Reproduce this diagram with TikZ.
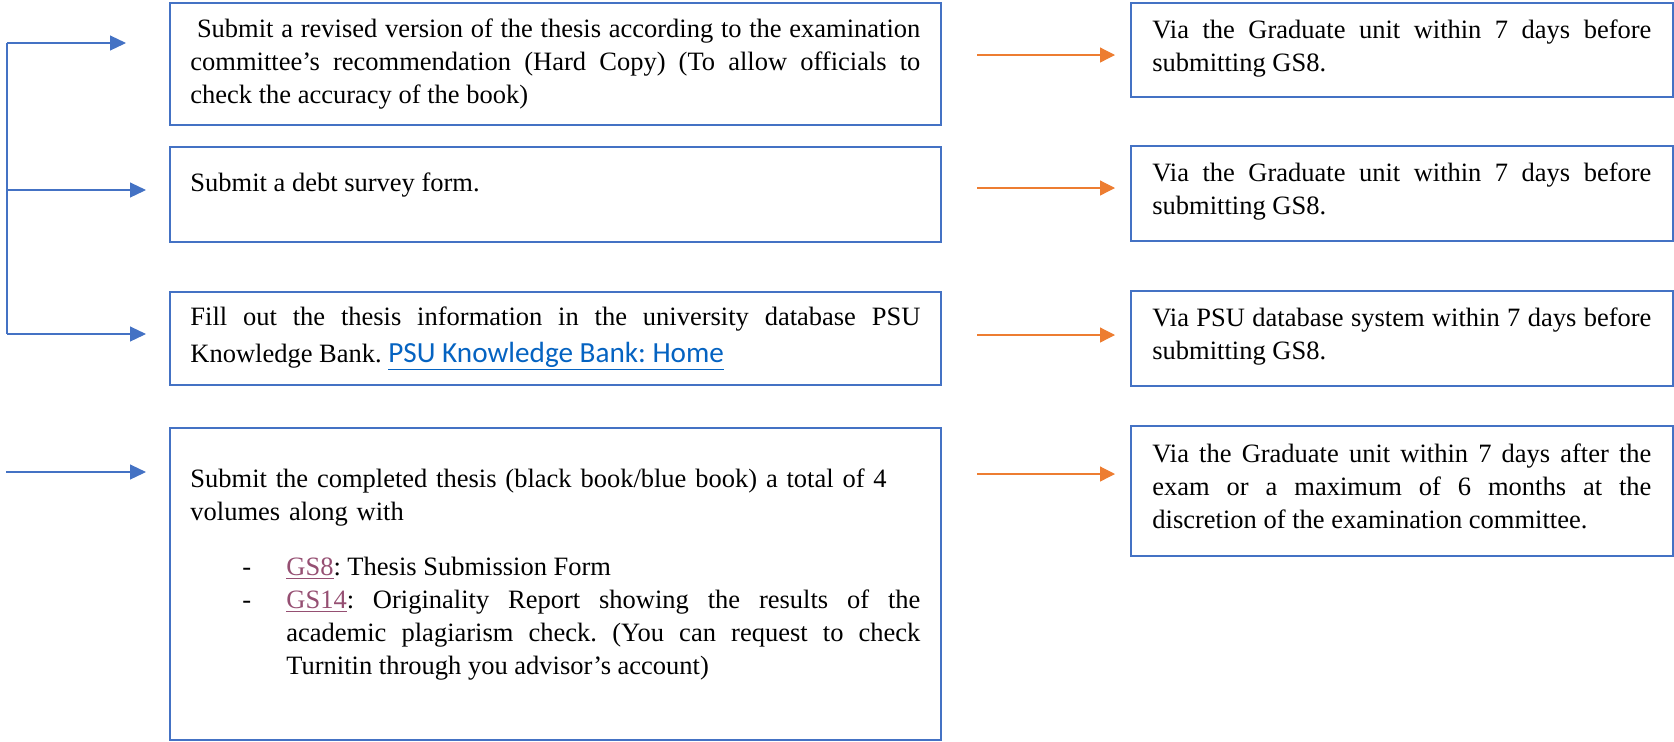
\documentclass[tikz,border=0pt]{standalone}
\usepackage{fontspec}
\setmainfont{Liberation Serif}
\newfontfamily\calibfont{Carlito}
\usetikzlibrary{arrows.meta}
\definecolor{boxblue}{HTML}{4472C4}
\definecolor{arrorange}{HTML}{ED7D31}
\definecolor{linkblue}{HTML}{0563C1}
\definecolor{linkpurple}{HTML}{954F72}
\tolerance=10000
\hbadness=10000
\frenchspacing
\newcommand{\txtsize}{\fontsize{13.25pt}{16.5pt}\selectfont}
\newcommand{\hlink}[1]{\textcolor{linkpurple}{\underline{#1}}}
\begin{document}
\begin{tikzpicture}[x=0.5pt,y=-0.5pt,
  box/.style={draw=boxblue, line width=1.2pt, inner sep=0pt, anchor=north west},
  txt/.style={anchor=base west, inner sep=0pt, font=\txtsize, align=justify},
  bline/.style={draw=boxblue, line width=0.6pt},
  barrow/.style={draw=boxblue, line width=0.6pt, -{Triangle[length=8pt,width=7.5pt]}, fill=boxblue},
  oarrow/.style={draw=arrorange, line width=0.6pt, -{Triangle[length=7.5pt,width=7.5pt]}, fill=arrorange, shorten <=17.5pt, shorten >=7.5pt}]
\useasboundingbox (0,0) rectangle (1674,741);

% left boxes
\node[box, minimum width=385.5pt, minimum height=61pt] (L1) at (169,2) {};
\node[box, minimum width=385.5pt, minimum height=47.5pt] (L2) at (169,146) {};
\node[box, minimum width=385.5pt, minimum height=46.5pt] (L3) at (169,291) {};
\node[box, minimum width=385.5pt, minimum height=156pt] (L4) at (169,427) {};

% right boxes
\node[box, minimum width=271pt, minimum height=47pt] (R1) at (1130,2) {};
\node[box, minimum width=271pt, minimum height=47.5pt] (R2) at (1130,145) {};
\node[box, minimum width=271pt, minimum height=47.5pt] (R3) at (1130,290) {};
\node[box, minimum width=271pt, minimum height=65pt] (R4) at (1130,425) {};

% left texts
\node[txt, text width=365pt] (t1) at (190,37) {\hspace*{3.3pt}Submit a revised version of the thesis according to the examination\linebreak committee’s recommendation (Hard Copy) (To allow officials to\linebreak check the accuracy of the book)};
\node[txt, text width=365pt] (t2) at (190,191) {Submit a debt survey form.};
\node[txt, text width=365pt, font=\fontsize{13.25pt}{18.5pt}\selectfont] (t3) at (190,325) {Fill out the thesis information in the university database PSU\linebreak Knowledge Bank. {\calibfont\fontsize{14.6pt}{18.5pt}\selectfont\textcolor{linkblue}{\underline{PSU Knowledge Bank: Home}}}};
\node[txt, text width=365pt, align=left] (t4) at (190,487) {Submit the completed thesis (black book/blue book) a total of 4\\volumes along with};
\node[txt] (d1) at (242,575) {-};
\node[txt] (d2) at (242,608) {-};
\node[txt, text width=317pt] (t4b) at (286,575) {\hlink{GS8}: Thesis Submission Form\par \hlink{GS14}: Originality Report showing the results of the\linebreak academic plagiarism check. (You can request to check\linebreak Turnitin through you advisor’s account)};

% right texts
\node[txt, text width=249.5pt] (r1) at (1152,38) {Via the Graduate unit within 7 days before\linebreak submitting GS8.};
\node[txt, text width=249.5pt] (r2) at (1152,181) {Via the Graduate unit within 7 days before\linebreak submitting GS8.};
\node[txt, text width=249.5pt] (r3) at (1152,326) {Via PSU database system within 7 days before\linebreak submitting GS8.};
\node[txt, text width=249.5pt] (r4) at (1152,462) {Via the Graduate unit within 7 days after the\linebreak exam or a maximum of 6 months at the\linebreak discretion of the examination committee.};

% blue bracket and arrows
\coordinate (bt) at (7,43);
\coordinate (bm) at (7,190);
\coordinate (bb) at (7,334);
\coordinate (b4) at (6,472);
\draw[bline] (bt) -- (bb);
\draw[barrow, shorten >=21.5pt] (bt) -- (L1.west |- bt);
\draw[barrow, shorten >=11.5pt] (bm) -- (L2.west |- bm);
\draw[barrow, shorten >=11.5pt] (bb) -- (L3.west |- bb);
\draw[barrow, shorten >=11.5pt] (b4) -- (L4.west |- b4);

% orange arrows
\draw[oarrow] (L1.east |- 0,55) -- (R1.west |- 0,55);
\draw[oarrow] (L2.east |- 0,188) -- (R2.west |- 0,188);
\draw[oarrow] (L3.east |- 0,335) -- (R3.west |- 0,335);
\draw[oarrow] (L4.east |- 0,474) -- (R4.west |- 0,474);
\end{tikzpicture}
\end{document}
